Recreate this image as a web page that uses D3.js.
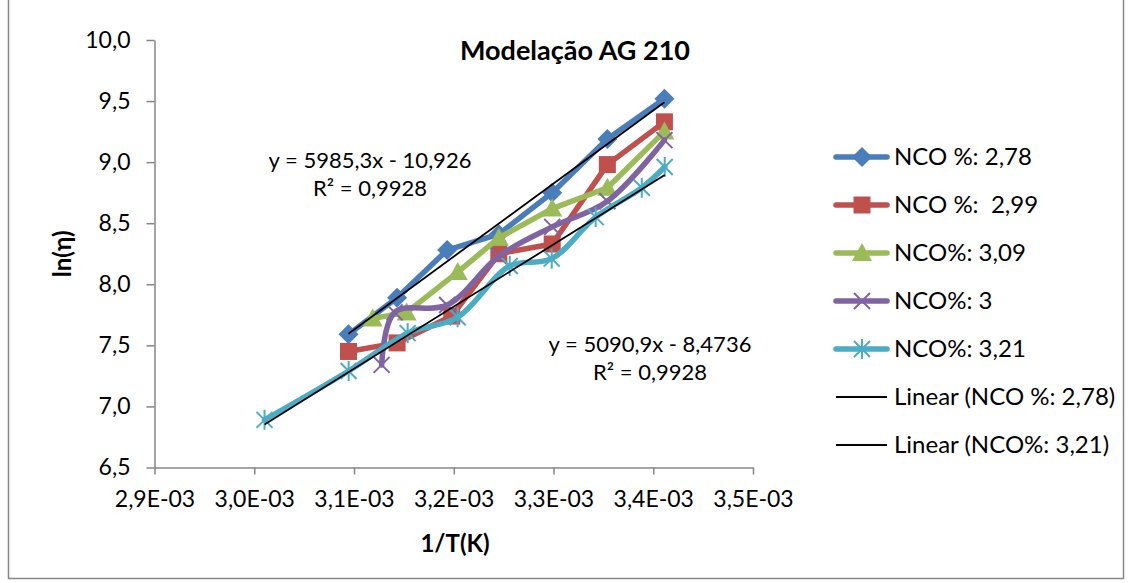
<!DOCTYPE html>
<html>
<head>
<meta charset="utf-8">
<script src="https://cdn.jsdelivr.net/npm/d3@7"></script>
<style>
  body { margin: 0; background: #fff; }
  svg { font-family: Lato, "Open Sans", sans-serif; }
</style>
</head>
<body>
<svg id="chart" width="1130" height="583"></svg>
<script>
// ticks
const xTicks = [2.9e-3, 3.0e-3, 3.1e-3, 3.2e-3, 3.3e-3, 3.4e-3, 3.5e-3];
const yTicks = [6.5, 7.0, 7.5, 8.0, 8.5, 9.0, 9.5, 10.0];

// series (1/T, ln(eta))
const x278 = [3.0945e-3, 3.1432e-3, 3.1934e-3, 3.2452e-3, 3.2987e-3, 3.3540e-3, 3.4112e-3];
const y278 = [7.59, 7.89, 8.28, 8.41, 8.75, 9.19, 9.52];

const x299 = [3.0945e-3, 3.1432e-3, 3.1980e-3, 3.2452e-3, 3.2987e-3, 3.3540e-3, 3.4112e-3];
const y299 = [7.45, 7.52, 7.74, 8.25, 8.33, 8.98, 9.33];

const x309 = [3.1187e-3, 3.1528e-3, 3.2040e-3, 3.2452e-3, 3.2987e-3, 3.3540e-3, 3.4112e-3];
const y309 = [7.72, 7.77, 8.10, 8.38, 8.62, 8.79, 9.25];

const x300 = [3.1277e-3, 3.1407e-3, 3.1934e-3, 3.2452e-3, 3.2987e-3, 3.3540e-3, 3.4112e-3];
const y300 = [7.34, 7.77, 7.83, 8.23, 8.47, 8.68, 9.18];

const x321 = [3.0103e-3, 3.0946e-3, 3.1538e-3, 3.2039e-3, 3.2561e-3, 3.2982e-3, 3.3423e-3, 3.3885e-3, 3.4115e-3];
const y321 = [6.89, 7.29, 7.60, 7.73, 8.15, 8.21, 8.55, 8.79, 8.96];

const seriesNames = ['NCO %: 2,78', 'NCO %:  2,99', 'NCO%: 3,09', 'NCO%: 3', 'NCO%: 3,21'];
const seriesColors = ['#4a7ebb', '#c0504d', '#9bbb59', '#8064a2', '#4bacc6'];
const seriesMarkers = ['diamond', 'square', 'triangle', 'x', 'star'];
const seriesSmooth = [false, false, false, true, true];

// trend lines
const trendNames = ['Linear (NCO %: 2,78)', 'Linear (NCO%: 3,21)'];
const trendSlope = [5985.3, 5090.9];
const trendIntercept = [-10.926, -8.4736];
const trendLabels = [['y = 5985,3x - 10,926', 'R² = 0,9928'], ['y = 5090,9x - 8,4736', 'R² = 0,9928']];

const series = [
  { xs: x278, ys: y278 },
  { xs: x299, ys: y299 },
  { xs: x309, ys: y309 },
  { xs: x300, ys: y300 },
  { xs: x321, ys: y321 },
].map((s, i) => ({
  name: seriesNames[i],
  color: seriesColors[i],
  marker: seriesMarkers[i],
  smooth: seriesSmooth[i],
  points: s.xs.map((v, j) => [v, s.ys[j]]),
}));

const trends = [series[0], series[4]].map((s, i) => {
  const [x0, x1] = d3.extent(s.points, d => d[0]);
  return {
    name: trendNames[i],
    points: [x0, x1].map(v => [v, trendSlope[i] * v + trendIntercept[i]]),
    label: trendLabels[i],
  };
});

const svg = d3.select('#chart');
const axisColor = '#868686';

const x = d3.scaleLinear().domain([2.9e-3, 3.5e-3]).range([154.5, 753]);
const y = d3.scaleLinear().domain([6.5, 10]).range([467.5, 40]);

// outer border
svg.append('rect')
  .attr('x', 8.5).attr('y', -2)
  .attr('width', 1115).attr('height', 580.5)
  .attr('fill', 'none')
  .attr('stroke', axisColor)
  .attr('stroke-width', 1.5);

// axes
const yAxis = svg.append('g')
  .attr('transform', `translate(${x.range()[0]},0)`)
  .call(d3.axisLeft(y).tickValues(yTicks)
    .tickFormat(d => d.toFixed(1).replace('.', ','))
    .tickSize(8).tickPadding(16).tickSizeOuter(0));

const xAxis = svg.append('g')
  .attr('transform', `translate(0,${y.range()[0]})`)
  .call(d3.axisBottom(x).tickValues(xTicks)
    .tickFormat(d => (d * 1000).toFixed(1).replace('.', ',') + 'E-03')
    .tickSize(7).tickPadding(16).tickSizeOuter(0));

[xAxis, yAxis].forEach(g => {
  g.select('.domain').attr('stroke', axisColor).attr('stroke-width', 1.5);
  g.selectAll('.tick line').attr('stroke', axisColor).attr('stroke-width', 1.5);
  g.selectAll('.tick text')
    .attr('fill', '#000')
    .style('font-size', '23px')
    .style('font-family', 'Lato, sans-serif');
});

// marker shapes
function drawMarker(g, type, color) {
  if (type === 'diamond') {
    g.append('path').attr('d', 'M0,-10L10,0L0,10L-10,0Z').attr('fill', color);
  } else if (type === 'square') {
    g.append('rect').attr('x', -8.5).attr('y', -8.5).attr('width', 17).attr('height', 17).attr('fill', color);
  } else if (type === 'triangle') {
    g.append('path').attr('d', 'M0,-10L10,8L-10,8Z').attr('fill', color);
  } else if (type === 'x') {
    g.append('path').attr('d', 'M-8,-8L8,8M-8,8L8,-8')
      .attr('stroke', color).attr('stroke-width', 2).attr('fill', 'none');
  } else if (type === 'star') {
    g.append('path').attr('d', 'M-8,-8L8,8M-8,8L8,-8M0,-10L0,10')
      .attr('stroke', color).attr('stroke-width', 2).attr('fill', 'none');
  }
}

const plot = svg.append('g');

series.forEach(s => {
  const line = d3.line()
    .x(d => x(d[0])).y(d => y(d[1]))
    .curve(s.smooth ? d3.curveCatmullRom.alpha(0.5) : d3.curveLinear);
  const g = plot.append('g');
  g.append('path')
    .attr('d', line(s.points))
    .attr('fill', 'none')
    .attr('stroke', s.color)
    .attr('stroke-width', 5.5)
    .attr('stroke-linejoin', 'round')
    .attr('stroke-linecap', 'round');
  g.selectAll('g.mk')
    .data(s.points)
    .join('g')
    .attr('class', 'mk')
    .attr('transform', d => `translate(${x(d[0])},${y(d[1])})`)
    .each(function () { drawMarker(d3.select(this), s.marker, s.color); });
});

// trend lines
trends.forEach(t => {
  plot.append('path')
    .attr('d', d3.line().x(d => x(d[0])).y(d => y(d[1]))(t.points))
    .attr('stroke', '#000')
    .attr('stroke-width', 1.8)
    .attr('fill', 'none');
});

// trend labels
const labelPos = [[370, 168], [650, 352]];
trends.forEach((t, i) => {
  const txt = svg.append('text')
    .attr('text-anchor', 'middle')
    .style('font-size', '22px');
  t.label.forEach((l, j) => {
    txt.append('tspan')
      .attr('x', labelPos[i][0])
      .attr('y', labelPos[i][1] + j * 28)
      .text(l);
  });
});

// title and axis titles
svg.append('text')
  .attr('x', 575).attr('y', 60)
  .attr('text-anchor', 'middle')
  .style('font-size', '27px').style('font-weight', 'bold')
  .text('Modelação AG 210');

svg.append('text')
  .attr('transform', `translate(71,${(y.range()[0] + y.range()[1]) / 2}) rotate(-90)`)
  .attr('text-anchor', 'middle')
  .style('font-size', '24px').style('font-weight', 'bold')
  .text('ln(η)');

svg.append('text')
  .attr('x', 455).attr('y', 552)
  .attr('text-anchor', 'middle')
  .style('font-size', '24px').style('font-weight', 'bold')
  .text('1/T(K)');

// legend
const legendItems = series.map(s => ({ name: s.name, color: s.color, marker: s.marker, width: 5.5 }))
  .concat(trends.map(t => ({ name: t.name, color: '#000', marker: null, width: 1.8 })));

const legend = svg.append('g');
legendItems.forEach((d, i) => {
  const ly = 157 + i * 48;
  const g = legend.append('g').attr('transform', `translate(0,${ly})`);
  g.append('line')
    .attr('x1', 836).attr('x2', 887)
    .attr('stroke', d.color).attr('stroke-width', d.width)
    .attr('stroke-linecap', d.marker ? 'round' : 'butt');
  if (d.marker) {
    const m = g.append('g').attr('transform', 'translate(862,0)');
    drawMarker(m, d.marker, d.color);
  }
  g.append('text')
    .attr('x', 894).attr('y', 0)
    .attr('dy', '0.35em')
    .style('font-size', '24px')
    .style('white-space', 'pre')
    .text(d.name);
});
</script>
</body>
</html>
